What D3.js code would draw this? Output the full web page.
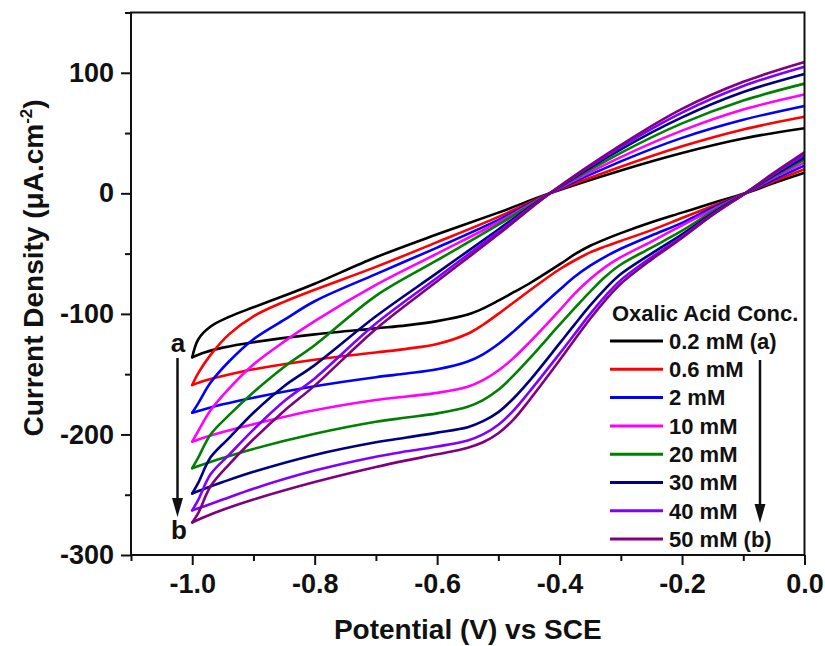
<!DOCTYPE html>
<html lang="en">
<head>
<meta charset="UTF-8">
<title>Oxalic acid CV</title>
<script src="https://cdn.jsdelivr.net/npm/d3@7"></script>
<style>
  body { margin: 0; background: #fff; }
  text { font-family: "Liberation Sans", Arial, sans-serif; font-weight: bold; fill: #111; }
</style>
</head>
<body>
<svg id="chart" width="825" height="646"></svg>
<script>
// concentrations (legend)
const concLabels = ["0.2 mM (a)", "0.6 mM", "2 mM", "10 mM", "20 mM", "30 mM", "40 mM", "50 mM (b)"];

// potential grid of the anodic (upper) branch, -1.0 -> 0.0 V
const upX = [-1.0, -0.99, -0.97, -0.94, -0.9, -0.85, -0.8, -0.7, -0.6, -0.5, -0.416, -0.3, -0.2, -0.1, 0.0];
const up02 = [-136, -121, -110.5, -102.5, -94.5, -85, -75, -53, -34, -16, 0, 19, 33.5, 45.5, 54];
const up06 = [-159, -149, -134, -117, -102, -90, -80, -61, -40.5, -19.5, 0, 22, 39, 53, 63.5];
const up2  = [-182, -174, -157, -139.5, -121, -105, -89.5, -67, -45, -22, 0, 26.5, 46, 61, 72.5];
const up10 = [-206, -197, -180, -162, -142, -123, -106, -76, -50, -24, 0, 30, 52, 69.5, 82];
const up20 = [-228, -219, -200, -184, -165, -144, -126, -85, -55.5, -26, 0, 33.5, 58, 77, 91];
const up30 = [-249, -240, -219, -203, -182, -160, -142.5, -102, -66, -30, 0, 36.5, 63, 84, 99];
const up40 = [-263, -254, -233, -217, -196, -172.5, -153.5, -108, -70, -32, 0, 38.5, 67, 89, 105];
const up50 = [-273, -265, -243, -225, -204, -180.5, -159.5, -112.5, -73, -34, 0, 40, 70, 92.5, 109];

// potential grid of the cathodic (lower) branch, 0.0 -> -1.0 V
const loX = [0.0, -0.05, -0.097, -0.15, -0.2, -0.25, -0.3, -0.325, -0.35, -0.375, -0.4, -0.45, -0.475, -0.5, -0.525, -0.55, -0.6, -0.65, -0.7, -0.8, -0.9, -0.95, -0.98, -1.0];
const lo02 = [17, 8.5, 0, -8, -16, -24, -33, -38, -43.5, -50.5, -59, -75, -82, -89, -95.5, -100.5, -106, -109.5, -112, -117, -123.5, -128, -132, -136];
const lo06 = [20, 10, 0, -10.5, -20.5, -30.5, -39.5, -44, -49, -55.5, -63, -81, -90.5, -100, -109, -116.5, -125, -129, -132, -138, -146, -151.5, -155.5, -159];
const lo2  = [23, 11.5, 0, -12, -24.5, -35, -46, -52.5, -60, -69, -80, -103, -114.5, -125, -133.5, -139.5, -146, -149.5, -152.5, -160, -169.5, -175, -179, -182];
const lo10 = [25.5, 13, 0, -13.5, -26.5, -40, -53, -61, -71, -83, -97, -124, -136.5, -147, -155, -160.5, -165.5, -168.5, -171.5, -180, -191.5, -198, -202.5, -206];
const lo20 = [28, 14, 0, -15, -31, -45, -59, -69, -81.5, -95, -109, -137.5, -151, -163, -171.5, -177, -182.5, -186, -189.5, -199.5, -212, -219.5, -224.5, -228];
const lo30 = [30, 15, 0, -16.5, -34, -50, -67, -79, -93, -108.5, -124.5, -156, -170, -181.5, -189, -194, -198.5, -202.5, -206.5, -217, -231, -239.5, -245, -249];
const lo40 = [32, 16, 0, -17.5, -36, -53, -72, -85, -100, -116.5, -133, -165, -180, -192, -200, -205, -210, -214, -218.5, -230, -245, -254, -259.5, -263];
const lo50 = [34, 17, 0, -18, -37, -55, -75, -88.5, -104, -121, -138.5, -172, -187.5, -199, -206.5, -211, -216.5, -221.5, -227, -239.5, -254, -262.5, -268.5, -273];

// ticks
const xTicks = [-1.0, -0.8, -0.6, -0.4, -0.2, 0.0];
const xMinor = [-1.1, -0.9, -0.7, -0.5, -0.3, -0.1];
const yTicks = [100, 0, -100, -200, -300];
const yMinor = [150, 50, -50, -150, -250];

const colors = ["#000000", "#ff0000", "#0000ff", "#ff00ff", "#008000", "#000080", "#8000ff", "#800080"];
const ups = [up02, up06, up2, up10, up20, up30, up40, up50];
const lows = [lo02, lo06, lo2, lo10, lo20, lo30, lo40, lo50];

const svg = d3.select("#chart");
const mLeft = 131, mRight = 804.5, mTop = 12.5, mBottom = 555;

const x = d3.scaleLinear().domain([-1.1, 0]).range([mLeft, mRight]);
const y = d3.scaleLinear().domain([-300, 150]).range([mBottom, mTop]);

svg.append("clipPath").attr("id", "plot")
  .append("rect").attr("x", mLeft).attr("y", mTop)
  .attr("width", mRight - mLeft).attr("height", mBottom - mTop);

const line = d3.line()
  .x(d => x(d[0]))
  .y(d => y(d[1]))
  .curve(d3.curveCatmullRom.alpha(0.5));

// each loop: forward scan (upper) and reverse scan (lower), meeting at -1.0 V
const curves = svg.append("g").attr("clip-path", "url(#plot)");
concLabels.forEach((c, i) => {
  const up = upX.map((v, j) => [v, ups[i][j]]);
  const lo = loX.map((v, j) => [v, lows[i][j]]);
  [up, lo].forEach(pts => {
    curves.append("path")
      .attr("d", line(pts))
      .attr("fill", "none")
      .attr("stroke", colors[i])
      .attr("stroke-width", 2.6)
      .attr("stroke-linejoin", "round")
      .attr("stroke-linecap", "round");
  });
});

// axes
function styleAxis(g) {
  g.select(".domain").remove();
  g.selectAll("line").attr("stroke", "#111").attr("stroke-width", 2);
  g.selectAll("text").attr("font-size", 27).attr("fill", "#111");
}

svg.append("g").attr("transform", `translate(0,${mBottom})`)
  .call(d3.axisBottom(x).tickValues(xMinor).tickSize(6).tickFormat(""))
  .call(styleAxis);
svg.append("g").attr("transform", `translate(0,${mBottom})`)
  .call(d3.axisBottom(x).tickValues(xTicks).tickSize(10).tickPadding(9).tickFormat(d => d.toFixed(1)))
  .call(styleAxis);
svg.append("g").attr("transform", `translate(${mLeft},0)`)
  .call(d3.axisLeft(y).tickValues(yMinor).tickSize(6).tickFormat(""))
  .call(styleAxis);
svg.append("g").attr("transform", `translate(${mLeft},0)`)
  .call(d3.axisLeft(y).tickValues(yTicks).tickSize(10).tickPadding(7).tickFormat(d => d))
  .call(styleAxis);

svg.append("rect")
  .attr("x", mLeft).attr("y", mTop)
  .attr("width", mRight - mLeft).attr("height", mBottom - mTop)
  .attr("fill", "none").attr("stroke", "#111").attr("stroke-width", 2);

// axis titles
svg.append("text")
  .attr("x", (mLeft + mRight) / 2).attr("y", 639)
  .attr("text-anchor", "middle").attr("font-size", 28)
  .text("Potential (V) vs SCE");

const yt = svg.append("text")
  .attr("transform", "translate(43,268) rotate(-90)")
  .attr("text-anchor", "middle").attr("font-size", 28);
yt.append("tspan").text("Current Density (μA.cm");
yt.append("tspan").attr("font-size", 17).attr("dy", -11).text("-2");
yt.append("tspan").attr("dy", 11).text(")");

// legend
const lg = svg.append("g");
lg.append("text").attr("x", 612).attr("y", 313).attr("dy", "0.35em")
  .attr("font-size", 22).text("Oxalic Acid Conc.");
concLabels.forEach((c, i) => {
  const ly = 341 + i * 28.3;
  lg.append("line").attr("x1", 610).attr("x2", 663).attr("y1", ly).attr("y2", ly)
    .attr("stroke", colors[i]).attr("stroke-width", 3);
  lg.append("text").attr("x", 669).attr("y", ly).attr("dy", "0.35em")
    .attr("font-size", 22).text(c);
});

// arrows a -> b
function arrow(ax, y0, y1) {
  svg.append("line").attr("x1", ax).attr("x2", ax).attr("y1", y0).attr("y2", y1 - 14)
    .attr("stroke", "#111").attr("stroke-width", 2.5);
  svg.append("path")
    .attr("d", `M${ax - 5.5},${y1 - 19}L${ax + 5.5},${y1 - 19}L${ax},${y1}Z`)
    .attr("fill", "#111");
}
arrow(760, 360, 523);
arrow(177.5, 358, 517);
svg.append("text").attr("x", 178).attr("y", 343).attr("dy", "0.35em")
  .attr("text-anchor", "middle").attr("font-size", 26).text("a");
svg.append("text").attr("x", 179).attr("y", 530).attr("dy", "0.35em")
  .attr("text-anchor", "middle").attr("font-size", 26).text("b");
</script>
</body>
</html>
